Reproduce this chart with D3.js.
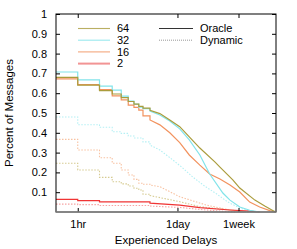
<!DOCTYPE html>
<html>
<head>
<meta charset="utf-8">
<script src="https://cdn.jsdelivr.net/npm/d3@7"></script>
<style>
    body { margin: 0; background: #fff; }
    text { font-family: 'Liberation Sans', Arial, sans-serif; font-size: 11px; fill: #000; }
    .title { font-size: 11.5px; }
</style>
</head>
<body>
<svg width="297" height="249"></svg>
<script>
// delays in hours, values = fraction of messages still undelivered
const oracle64 = [[0.5, 0.68], [1, 0.641], [2, 0.613], [3, 0.596], [4, 0.578], [5, 0.558], [6, 0.545], [7, 0.533], [8, 0.525], [10, 0.513], [13.7, 0.497], [18.8, 0.465], [25.8, 0.431], [35, 0.379], [49, 0.323], [79, 0.253], [93, 0.227], [140, 0.162], [175, 0.121], [283, 0.06], [388, 0.03], [500, 0.008], [550, 0]];
const oracle32 = [[0.5, 0.707], [1, 0.667], [2, 0.636], [3, 0.616], [4, 0.585], [5, 0.56], [6, 0.545], [7, 0.53], [8, 0.522], [10, 0.51], [13.7, 0.49], [18.8, 0.46], [25.8, 0.42], [35, 0.364], [49, 0.288], [67, 0.192], [102, 0.096], [128, 0.06], [175, 0.025], [240, 0.009], [330, 0]];
const oracle16 = [[0.5, 0.672], [1, 0.643], [2, 0.618], [3, 0.586], [4, 0.566], [5, 0.54], [6, 0.528], [7, 0.515], [8, 0.485], [10, 0.465], [13.7, 0.44], [18.8, 0.4], [25.8, 0.35], [35, 0.288], [49, 0.237], [67, 0.192], [93, 0.167], [128, 0.136], [175, 0.101], [240, 0.05], [330, 0.025], [455, 0.007], [550, 0]];
const oracle2 = [[0.5, 0.064], [1, 0.057], [2, 0.051], [10, 0.045], [25.8, 0.035], [49, 0.022], [128, 0.01], [240, 0.004], [330, 0]];
const dynamic64 = [[0.5, 0.246], [1, 0.212], [2, 0.175], [3, 0.153], [4, 0.142], [5, 0.131], [6, 0.12], [7, 0.111], [8, 0.09], [10, 0.083], [25.8, 0.052], [49, 0.027], [128, 0.01], [240, 0]];
const dynamic32 = [[0.5, 0.48], [1, 0.441], [2, 0.428], [3, 0.405], [4, 0.397], [5, 0.384], [6, 0.374], [8, 0.354], [10, 0.338], [13.7, 0.313], [20.7, 0.263], [28.5, 0.222], [39, 0.177], [57, 0.131], [84, 0.091], [120, 0.05], [175, 0.02], [240, 0.005], [300, 0]];
const dynamic16 = [[0.5, 0.367], [1, 0.313], [2, 0.274], [3, 0.246], [4, 0.212], [5, 0.187], [6, 0.165], [7, 0.145], [8, 0.14], [10, 0.136], [13.7, 0.128], [25.8, 0.077], [60, 0.035], [120, 0.012], [200, 0]];
const dynamic2 = [[0.5, 0.04], [1, 0.037], [2, 0.033], [10, 0.03], [25.8, 0.023], [49, 0.013], [93, 0.005], [150, 0]];

const sizeLabels = ['64', '32', '16', '2'];
const xTicks = [1, 24, 168];
const xTickLabels = ['1hr', '1day', '1week'];
const yTicks = [0.1, 0.2, 0.3, 0.4, 0.5, 0.6, 0.7, 0.8, 0.9, 1];

const colors = { '64': '#aa9c3c', '32': '#82e4ea', '16': '#f2925e', '2': '#f03434' };
const lightColors = { '64': '#d6cb92', '32': '#b4f0f4', '16': '#f8c2a2', '2': '#f6a4a4' };

const series = [
    { key: '64', kind: 'dyn', data: dynamic64 },
    { key: '32', kind: 'dyn', data: dynamic32 },
    { key: '16', kind: 'dyn', data: dynamic16 },
    { key: '2', kind: 'dyn', data: dynamic2 },
    { key: '2', kind: 'oracle', data: oracle2 },
    { key: '16', kind: 'oracle', data: oracle16 },
    { key: '32', kind: 'oracle', data: oracle32 },
    { key: '64', kind: 'oracle', data: oracle64 }
];

const mLeft = 56, mRight = 276, mTop = 14, mBottom = 212;
const svg = d3.select('svg');

const x = d3.scaleLog().domain([0.5, 555]).range([mLeft, mRight]);
const y = d3.scaleLinear().domain([0, 1]).range([mBottom, mTop]);

// hourly bins show as steps at the left, get dense (jagged line) further right
const toSteps = (pts) => {
    const out = [];
    pts.forEach((p, i) => {
        out.push(p);
        const n = pts[i + 1];
        if (n && n[0] <= 10) out.push([n[0], p[1]]);
    });
    return out;
};

const line = d3.line().x((d) => x(d[0])).y((d) => y(d[1]));

svg.append('g')
    .selectAll('path')
    .data(series)
    .join('path')
    .attr('d', (d) => line(toSteps(d.data)))
    .attr('fill', 'none')
    .attr('stroke', (d) => (d.kind === 'oracle' ? colors[d.key] : lightColors[d.key]))
    .attr('stroke-width', (d) => (d.kind === 'oracle' ? 1.2 : 1.1))
    .attr('stroke-dasharray', (d) => (d.kind === 'oracle' ? null : '1.5,1.5'));

// axes, ticks inward (gnuplot style)
svg.append('g')
    .attr('transform', `translate(${mLeft},0)`)
    .call(d3.axisLeft(y).tickValues(yTicks).tickFormat((d) => d).tickSizeInner(-4).tickSizeOuter(0).tickPadding(9))
    .call((g) => g.select('.domain').remove());
svg.append('g')
    .attr('transform', `translate(${mRight},0)`)
    .call(d3.axisRight(y).tickValues(yTicks).tickFormat('').tickSizeInner(-4).tickSizeOuter(0))
    .call((g) => g.select('.domain').remove());
svg.append('g')
    .attr('transform', `translate(0,${mBottom})`)
    .call(d3.axisBottom(x).tickValues(xTicks).tickFormat((d, i) => xTickLabels[i]).tickSizeInner(-4).tickSizeOuter(0).tickPadding(8))
    .call((g) => g.select('.domain').remove());
svg.append('g')
    .attr('transform', `translate(0,${mTop})`)
    .call(d3.axisTop(x).tickValues(xTicks).tickFormat('').tickSizeInner(-4).tickSizeOuter(0))
    .call((g) => g.select('.domain').remove());
svg.selectAll('g[font-size]').attr('font-size', null).attr('font-family', null);

svg.append('rect')
    .attr('x', mLeft).attr('y', mTop)
    .attr('width', mRight - mLeft).attr('height', mBottom - mTop)
    .attr('fill', 'none').attr('stroke', '#000').attr('stroke-width', 1);
svg.append('line')
    .attr('x1', mLeft).attr('x2', mRight).attr('y1', mBottom).attr('y2', mBottom)
    .attr('stroke', '#888').attr('stroke-width', 1.6);

// legend
const leg = svg.append('g');
sizeLabels.forEach((k, i) => {
    const ly = 28.5 + i * 11.7;
    leg.append('line').attr('x1', 78).attr('x2', 110).attr('y1', ly).attr('y2', ly)
        .attr('stroke', k === '2' ? '#f07a7a' : colors[k])
        .attr('stroke-width', k === '2' ? 2 : 1.1).attr('opacity', 0.8);
    leg.append('text').attr('x', 117).attr('y', ly).attr('dy', '0.35em').text(k);
});
[['Oracle', '#333', null], ['Dynamic', '#999', '1,1']].forEach(([name, c, dash], i) => {
    const ly = 28.5 + i * 11.7;
    leg.append('line').attr('x1', 159).attr('x2', 193).attr('y1', ly).attr('y2', ly)
        .attr('stroke', c).attr('stroke-width', 1).attr('stroke-dasharray', dash);
    leg.append('text').attr('x', 200).attr('y', ly).attr('dy', '0.35em').text(name);
});

svg.append('text')
    .attr('class', 'title')
    .attr('transform', `translate(13,${(mTop + mBottom) / 2}) rotate(-90)`)
    .attr('text-anchor', 'middle')
    .text('Percent of Messages');
svg.append('text')
    .attr('class', 'title')
    .attr('x', (mLeft + mRight) / 2).attr('y', 244)
    .attr('text-anchor', 'middle')
    .text('Experienced Delays');
</script>
</body>
</html>
